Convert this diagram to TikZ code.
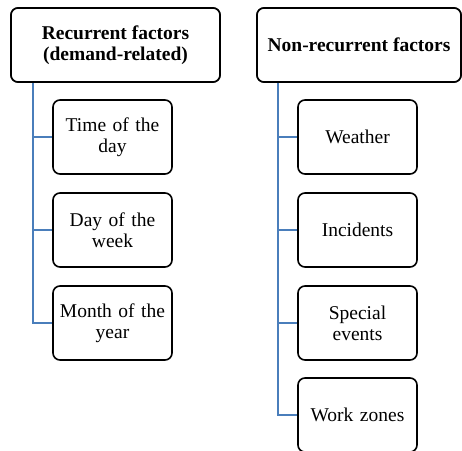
\documentclass[tikz,border=0pt]{standalone}
\usepackage{fontspec}
\setmainfont{Liberation Serif}
\tikzset{
  box/.style={draw=black, line width=1.6pt, rounded corners=7pt, fill=white,
    align=center, inner sep=2pt,
    font=\fontsize{19.5}{21}\selectfont},
  rootbox/.style={box, minimum height=74pt, font=\fontsize{19.5}{21}\selectfont\bfseries},
  leaf/.style={box, minimum width=119pt, minimum height=74pt, text width=112pt},
  conn/.style={draw={rgb,255:red,74;green,126;blue,187}, line width=1.8pt}
}
\begin{document}
\begin{tikzpicture}[x=1pt, y=-1pt]
  \useasboundingbox (0,0) rectangle (462,450);

  % left group: recurrent factors
  \node[rootbox, minimum width=209pt] (lroot) at (115.5,45) {Recurrent factors\\(demand-related)};
  \node[leaf] (l1) at (112.5,137) {Time of the\\day};
  \node[leaf] (l2) at (112.5,230) {Day of the\\week};
  \node[leaf] (l3) at (112.5,323) {Month of the\\year};

  % right group: non-recurrent factors
  \node[rootbox, minimum width=204pt] (rroot) at (359,45) {Non-recurrent factors};
  \node[leaf] (r1) at (357.5,137) {Weather};
  \node[leaf] (r2) at (357.5,230) {Incidents};
  \node[leaf] (r3) at (357.5,323) {Special\\events};
  \node[leaf] (r4) at (357.5,415) {Work zones};

  % trunk starting points under the headers
  \coordinate (lt) at (33,82);
  \coordinate (rt) at (278,82);

  % connectors
  \draw[conn] (lt) |- (l3.west);
  \draw[conn] (lt |- l1.west) -- (l1.west);
  \draw[conn] (lt |- l2.west) -- (l2.west);

  \draw[conn] (rt) |- (r4.west);
  \draw[conn] (rt |- r1.west) -- (r1.west);
  \draw[conn] (rt |- r2.west) -- (r2.west);
  \draw[conn] (rt |- r3.west) -- (r3.west);

  % redraw boxes over the line ends
  \node[rootbox, minimum width=209pt] at (lroot) {Recurrent factors\\(demand-related)};
  \node[rootbox, minimum width=204pt] at (rroot) {Non-recurrent factors};
\end{tikzpicture}
\end{document}
